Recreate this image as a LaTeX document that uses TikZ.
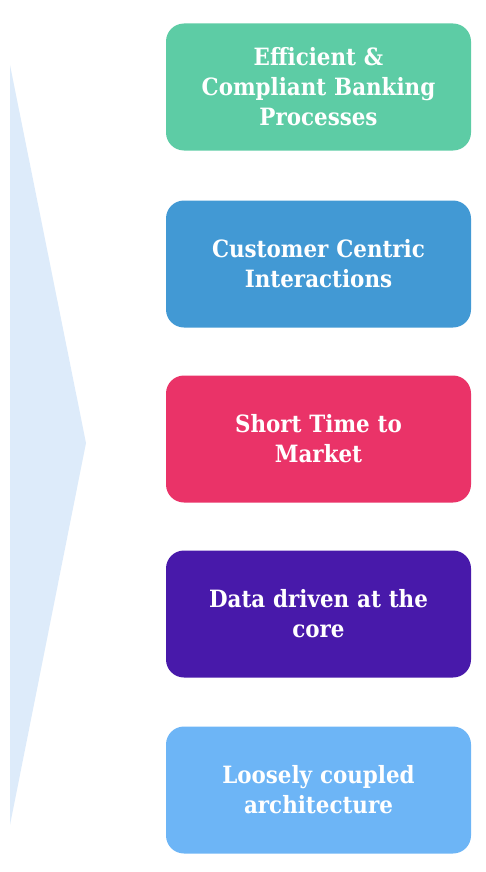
\documentclass[tikz,border=0pt]{standalone}
\usepackage{fontspec}
\setmainfont{DejaVu Serif Condensed}[BoldFont={DejaVu Serif Condensed Bold}]
\definecolor{cgreen}{HTML}{5DCCA5}
\definecolor{cblue}{HTML}{4299D4}
\definecolor{cpink}{HTML}{EA3368}
\definecolor{cpurple}{HTML}{4819AA}
\definecolor{clight}{HTML}{6DB5F6}
\definecolor{carrow}{HTML}{DDEBFA}
\tikzset{
  goal/.style={rounded corners=18pt, minimum width=305pt, minimum height=127pt,
    inner sep=0pt, text=white, align=center, text width=295pt,
    font=\fontsize{23.8}{30}\selectfont\bfseries},
}
\begin{document}
\begin{tikzpicture}[x=1pt,y=-1pt]
\useasboundingbox (0,0) rectangle (486,872);
% pointer shape on the left
\fill[carrow] (10,65) -- (86,443) -- (10,825) -- cycle;
% goal boxes
\node[goal, fill=cgreen]  (g1) at (318.5,87)  {Efficient \&\\Compliant Banking\\Processes};
\node[goal, fill=cblue]   (g2) at (318.5,264) {Customer Centric\\Interactions};
\node[goal, fill=cpink]   (g3) at (318.5,439) {Short Time to\\Market};
\node[goal, fill=cpurple] (g4) at (318.5,614) {Data driven at the\\core};
\node[goal, fill=clight]  (g5) at (318.5,790) {Loosely coupled\\architecture};
\end{tikzpicture}
\end{document}
